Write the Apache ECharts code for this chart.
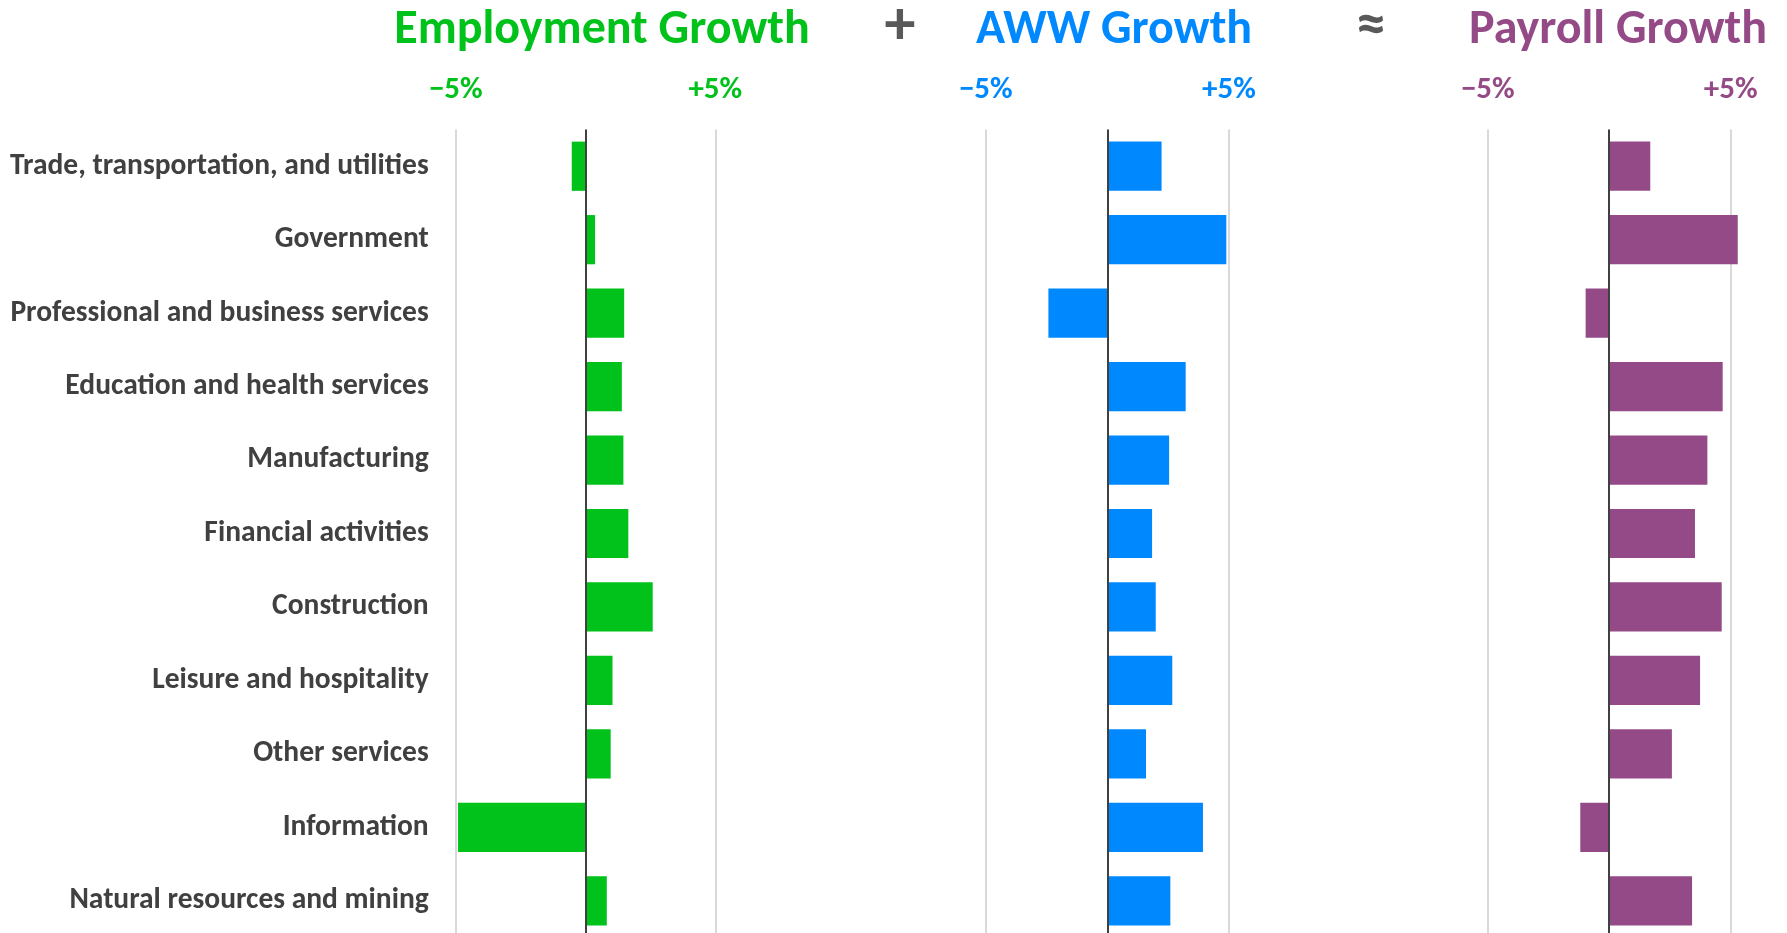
<!DOCTYPE html>
<html lang="en">
<head>
    <meta charset="UTF-8">
    <title>Employment, AWW and Payroll Growth by Industry</title>
    <script type="text/javascript" src="https://cdn.jsdelivr.net/npm/echarts@6/dist/echarts.min.js"></script>
    <style>
        html, body { margin: 0; padding: 0; background: #fff; overflow: hidden; }
    </style>
</head>
<body>
    <div id="chart" style="width:1787px;height:940px;"></div>
</body>
<script type="text/javascript">
    var myChart = echarts.init(document.getElementById('chart'));

    // industries, top to bottom
    var categories = [
        'Trade, transportation, and utilities',
        'Government',
        'Professional and business services',
        'Education and health services',
        'Manufacturing',
        'Financial activities',
        'Construction',
        'Leisure and hospitality',
        'Other services',
        'Information',
        'Natural resources and mining'
    ];
    // growth in percent
    var employmentGrowth = [-0.53, 0.37, 1.49, 1.40, 1.46, 1.65, 2.59, 1.04, 0.97, -4.91, 0.82];
    var awwGrowth = [2.23, 4.89, -2.42, 3.22, 2.54, 1.84, 1.99, 2.67, 1.59, 3.93, 2.59];
    var payrollGrowth = [1.69, 5.29, -0.97, 4.67, 4.04, 3.53, 4.63, 3.74, 2.58, -1.19, 3.41];

    var panelTitles = ['Employment Growth', 'AWW Growth', 'Payroll Growth'];
    var tickValues = [-5, 5];
    var tickLabels = ['\u22125%', '+5%'];

    var colors = ['#00C21A', '#0088FF', '#934A87'];
    var font = 'Calibri, Carlito, Lato, sans-serif';
    var textGray = '#404040';

    // left edge (-5%) and width (-5%..+5%) of each panel in px
    var panels = [
        {left: 455.7, width: 259.6, titleX: 602},
        {left: 985.6, width: 243.4, titleX: 1114},
        {left: 1487.7, width: 243, titleX: 1618}
    ];
    var seriesData = [employmentGrowth, awwGrowth, payrollGrowth];

    var grids = [], xAxes = [], yAxes = [], series = [], graphics = [];

    panels.forEach(function (p, i) {
        grids.push({left: p.left, width: p.width, top: 129.5, height: 808});
        xAxes.push({
            type: 'value',
            gridIndex: i,
            position: 'top',
            min: -5,
            max: 5,
            interval: 5,
            axisLine: {show: false},
            axisTick: {show: false},
            splitLine: {lineStyle: {color: '#D9D9D9', width: 2}},
            axisLabel: {
                margin: 24,
                color: colors[i],
                fontFamily: font,
                fontWeight: 'bold',
                fontSize: 31,
                formatter: function (v) {
                    var k = tickValues.indexOf(v);
                    return k < 0 ? '' : tickLabels[k];
                }
            }
        });
        yAxes.push({
            type: 'category',
            gridIndex: i,
            data: categories,
            inverse: true,
            axisLine: {show: false},
            axisTick: {show: false},
            axisLabel: {
                show: i === 0,
                margin: 27,
                padding: [4, 0, 0, 0],
                color: textGray,
                fontFamily: font,
                fontWeight: 'bold',
                fontSize: 29.5
            }
        });
        series.push({
            name: panelTitles[i],
            type: 'bar',
            xAxisIndex: i,
            yAxisIndex: i,
            data: seriesData[i],
            barCategoryGap: '33%',
            clip: false,
            itemStyle: {color: colors[i]},
            animation: false,
            markLine: {
                silent: true,
                symbol: ['none', 'none'],
                label: {show: false},
                lineStyle: {color: textGray, width: 2, type: 'solid'},
                data: [{xAxis: 0}],
                animation: false
            }
        });
        graphics.push({
            type: 'text',
            x: p.titleX,
            y: 31,
            style: {
                text: panelTitles[i],
                fill: colors[i],
                fontFamily: font,
                fontWeight: 'bold',
                fontSize: 48,
                align: 'center',
                verticalAlign: 'middle'
            }
        });
    });

    // operators between the panels
    graphics.push({
        type: 'text', x: 900, y: 28,
        style: {text: '+', fill: '#595959', fontFamily: font, fontWeight: 'bold', fontSize: 62, align: 'center', verticalAlign: 'middle'}
    });
    graphics.push({
        type: 'text', x: 1371, y: 28,
        style: {text: '\u2248', fill: '#595959', fontFamily: font, fontWeight: 'bold', fontSize: 60, align: 'center', verticalAlign: 'middle'}
    });

    var options = {
        backgroundColor: '#fff',
        grid: grids,
        xAxis: xAxes,
        yAxis: yAxes,
        series: series,
        graphic: graphics
    };
    myChart.setOption(options);
</script>
</html>
